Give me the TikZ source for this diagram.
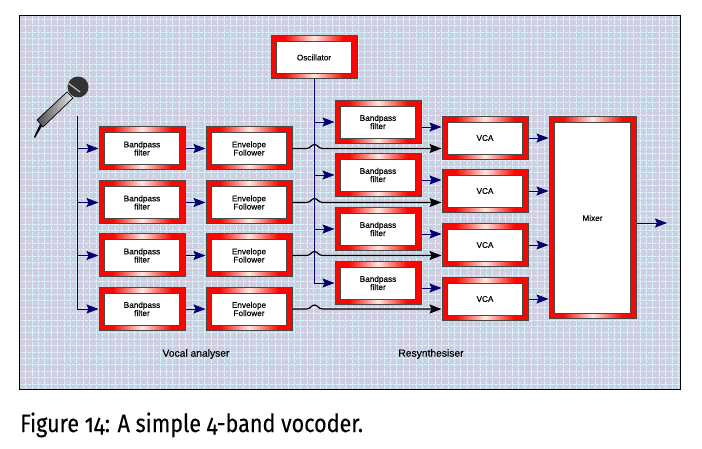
\documentclass[tikz,border=0pt]{standalone}
\usepackage{graphicx}
\usepackage{fontspec}
\setmainfont{Liberation Sans}[FakeBold=0.2]
\newfontfamily\capfont[Numbers=OldStyle,FakeBold=0.3]{Fira Sans}
\usetikzlibrary{arrows.meta}

\definecolor{panelbg}{HTML}{CECEE0}
\definecolor{gridblue}{HTML}{D8F4FF}
\definecolor{wireblue}{HTML}{000070}
\definecolor{rimred}{HTML}{F80800}
\definecolor{rimglow}{HTML}{FFE8E0}
\definecolor{rimgray}{HTML}{484848}

\pgfdeclareverticalshading{rimfade}{100bp}{color(0bp)=(rimred); color(33bp)=(rimred); color(50bp)=(rimglow); color(67bp)=(rimred); color(100bp)=(rimred)}

\tikzset{
  redbox/.style={draw=rimgray, line width=1pt, shading=rimfade, shading angle=90,
    minimum width=86pt, minimum height=43pt,
    inner sep=0pt, align=center, font=\fontsize{8.2}{8.2}\selectfont,
    path picture={
      \draw[rimgray, fill=white, line width=.9pt]
      ([shift={(5.5pt,5.5pt)}]path picture bounding box.south west) rectangle
      ([shift={(-5.5pt,-5.5pt)}]path picture bounding box.north east);}},
  bluewire/.style={wireblue, line width=.8pt, -{Stealth[length=12pt,width=9pt,inset=2pt]}},
  blackwire/.style={black, line width=1.2pt, -{Stealth[length=12pt,width=9pt,inset=2pt]}},
  caplabel/.style={font=\fontsize{10.3}{12}\selectfont, inner sep=0pt}
}

\begin{document}
\begin{tikzpicture}[x=1pt,y=-1pt]

    \useasboundingbox (0,0) rectangle (702,449);

    % panel
    \fill[panelbg] (19,16) rectangle (680,389);
    \draw[gridblue, step=6.4pt, line width=.7pt, dash pattern=on 3.4pt off 1pt] (19,16) grid (680,389);
    \draw[black, line width=1pt] (19,16) rectangle (680,389);

    % microphone
    \fill[black] (40,124) -- (42,126) -- (35,138) -- (34,137) -- cycle;
    \draw[black, line width=.7pt, shade, left color=black!70, right color=black!10]
      (37,120) -- (43,127) -- (73,98) -- (67,92) -- cycle;
    \fill[black!80] (78,87) circle [radius=10.5];
    \draw[black!25, line width=1.2pt] (68,83) -- (80,92);
    \coordinate (mictop) at (77,116);

    % vocal analyser
    \begin{scope}
      \node[redbox] (band1) at (142,148.5) {Bandpass\\filter};
      \node[redbox] (env1) at (249,148.5) {Envelope\\Follower};
    \end{scope}

    \begin{scope}[yshift=-54pt]
      \node[redbox] (band2) at (142,148.5) {Bandpass\\filter};
      \node[redbox] (env2) at (249,148.5) {Envelope\\Follower};
    \end{scope}

    \begin{scope}[yshift=-107pt]
      \node[redbox] (band3) at (142,148.5) {Bandpass\\filter};
      \node[redbox] (env3) at (249,148.5) {Envelope\\Follower};
    \end{scope}

    \begin{scope}[yshift=-160.5pt]
      \node[redbox] (band4) at (142,148.5) {Bandpass\\filter};
      \node[redbox] (env4) at (249,148.5) {Envelope\\Follower};
    \end{scope}

    % resynthesiser
    \node[redbox] (osc) at (314,57.5) {Oscillator};

    \node[redbox] (resband1) at (378,122) {Bandpass\\filter};
    \node[redbox] (resband2) at (378,175) {Bandpass\\filter};
    \node[redbox] (resband3) at (378,229) {Bandpass\\filter};
    \node[redbox] (resband4) at (378,283) {Bandpass\\filter};

    \node[redbox] (vca1) at (485,138) {VCA};
    \node[redbox] (vca2) at (485,191) {VCA};
    \node[redbox] (vca3) at (485,245) {VCA};
    \node[redbox] (vca4) at (485,299) {VCA};

    \node[redbox, minimum width=87pt, minimum height=202pt] (mixer) at (592.5,218) {Mixer};
    \coordinate (mixout) at (667,223);

    \node[caplabel] (vocal) at (196,354) {Vocal analyser};
    \node[caplabel] (resynth) at (431,354) {Resynthesiser};
    \node[anchor=base west, inner sep=0pt, font=\capfont\fontsize{25}{30}\selectfont] (caption) at (20,432) {\scalebox{.862}[1]{Figure 14: A simple 4-band vocoder.}};

    % microphone bus
    \draw[bluewire] (mictop) |- (band1);
    \draw[bluewire] (mictop) |- (band2);
    \draw[bluewire] (mictop) |- (band3);
    \draw[bluewire] (mictop) |- (band4);

    \draw[bluewire] (band1) -- (env1);
    \draw[bluewire] (band2) -- (env2);
    \draw[bluewire] (band3) -- (env3);
    \draw[bluewire] (band4) -- (env4);

    % oscillator bus
    \draw[bluewire] (osc) |- (resband1);
    \draw[bluewire] (osc) |- (resband2);
    \draw[bluewire] (osc) |- (resband3);
    \draw[bluewire] (osc) |- (resband4);

    \draw[bluewire] ([yshift=11pt]vca1.west -| resband1.east) -- ([yshift=11pt]vca1.west);
    \draw[bluewire] ([yshift=11pt]vca2.west -| resband2.east) -- ([yshift=11pt]vca2.west);
    \draw[bluewire] ([yshift=11pt]vca3.west -| resband3.east) -- ([yshift=11pt]vca3.west);
    \draw[bluewire] ([yshift=11pt]vca4.west -| resband4.east) -- ([yshift=11pt]vca4.west);

    \draw[bluewire] (vca1.east) -- (vca1.east -| mixer.west);
    \draw[bluewire] (vca2.east) -- (vca2.east -| mixer.west);
    \draw[bluewire] (vca3.east) -- (vca3.east -| mixer.west);
    \draw[bluewire] (vca4.east) -- (vca4.east -| mixer.west);

    \draw[bluewire] (mixer.east |- mixout) -- (mixout);

    % envelope lines hop over the oscillator bus
    \draw[blackwire] (env1.east) -- ++(14,0) .. controls +(4,0) and +(-3,0) .. ++(8,-4) .. controls +(3,0) and +(-4,0) .. ++(8,4) -- (vca1.west |- env1.east);
    \draw[blackwire] (env2.east) -- ++(14,0) .. controls +(4,0) and +(-3,0) .. ++(8,-4) .. controls +(3,0) and +(-4,0) .. ++(8,4) -- (vca2.west |- env2.east);
    \draw[blackwire] (env3.east) -- ++(14,0) .. controls +(4,0) and +(-3,0) .. ++(8,-4) .. controls +(3,0) and +(-4,0) .. ++(8,4) -- (vca3.west |- env3.east);
    \draw[blackwire] (env4.east) -- ++(14,0) .. controls +(4,0) and +(-3,0) .. ++(8,-4) .. controls +(3,0) and +(-4,0) .. ++(8,4) -- (vca4.west |- env4.east);

  \end{tikzpicture}
\end{document}
